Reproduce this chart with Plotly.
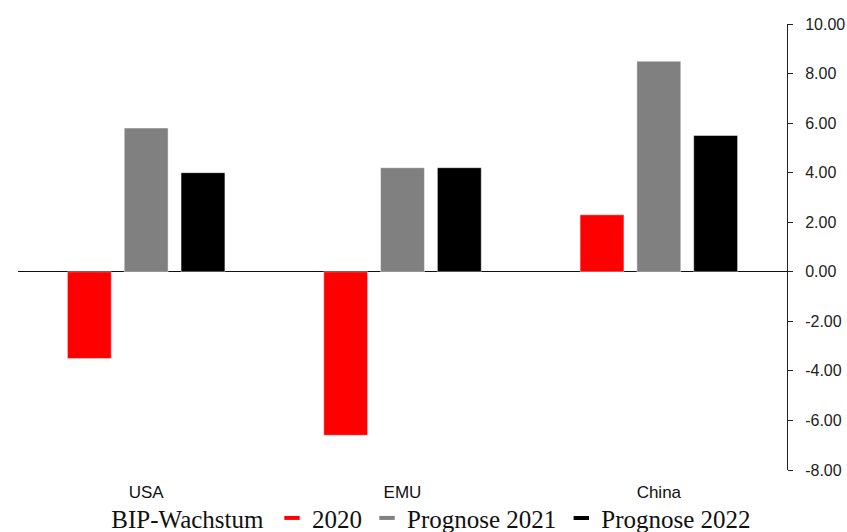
import plotly.graph_objects as go

categories = ["USA", "EMU", "China"]
series_names = ["2020", "Prognose 2021", "Prognose 2022"]
values_2020 = [-3.5, -6.6, 2.3]
values_2021 = [5.8, 4.2, 8.5]
values_2022 = [4.0, 4.2, 5.5]
colors = ["#FF0000", "#808080", "#000000"]
y_ticks = [-8, -6, -4, -2, 0, 2, 4, 6, 8, 10]
y_ticktext = [f"{v:.2f}" for v in y_ticks]

fig = go.Figure()
for name, vals, col in zip(series_names, [values_2020, values_2021, values_2022], colors):
    fig.add_trace(go.Bar(
        x=categories, y=vals, name=name, showlegend=False,
        marker=dict(color=col, line=dict(color="rgba(255,255,255,0.45)", width=1)),
    ))
    fig.add_trace(go.Scatter(
        x=[None], y=[None], mode="markers", name=name, showlegend=True,
        marker=dict(symbol="line-ew", size=11, color=col,
                    line=dict(color=col, width=4)),
    ))

fig.update_layout(
    width=847, height=532,
    margin=dict(l=18, r=60, t=24, b=62, autoexpand=False),
    paper_bgcolor="white", plot_bgcolor="white",
    barmode="group", bargap=0.335, bargroupgap=0.228,
    font=dict(family="Liberation Sans, Arial, sans-serif", color="#222222"),
    showlegend=True,
    legend=dict(
        orientation="h", xref="container", yref="container",
        x=0.511, xanchor="center", y=0.026, yanchor="middle",
        font=dict(family="Liberation Serif, Times New Roman, serif", size=25, color="#111111"),
        title=dict(text="BIP-Wachstum", side="left",
                   font=dict(family="Liberation Serif, Times New Roman, serif", size=25, color="#111111")),
        itemwidth=30, tracegroupgap=0, bgcolor="rgba(0,0,0,0)",
    ),
    xaxis=dict(
        showline=False, showgrid=False, zeroline=False, ticks="", automargin=False,
        tickfont=dict(size=17, color="#111111"), ticklabelstandoff=10,
    ),
    yaxis=dict(
        side="right", range=[-8, 10], tickvals=y_ticks, ticktext=y_ticktext,
        showline=True, linecolor="#222222", linewidth=1, automargin=False,
        ticks="outside", ticklen=5, tickcolor="#222222",
        showgrid=False, zeroline=True, zerolinecolor="#111111", zerolinewidth=1.2,
        tickfont=dict(size=16, color="#222222"), ticklabelstandoff=9,
    ),
)

fig.write_html("out.html")
